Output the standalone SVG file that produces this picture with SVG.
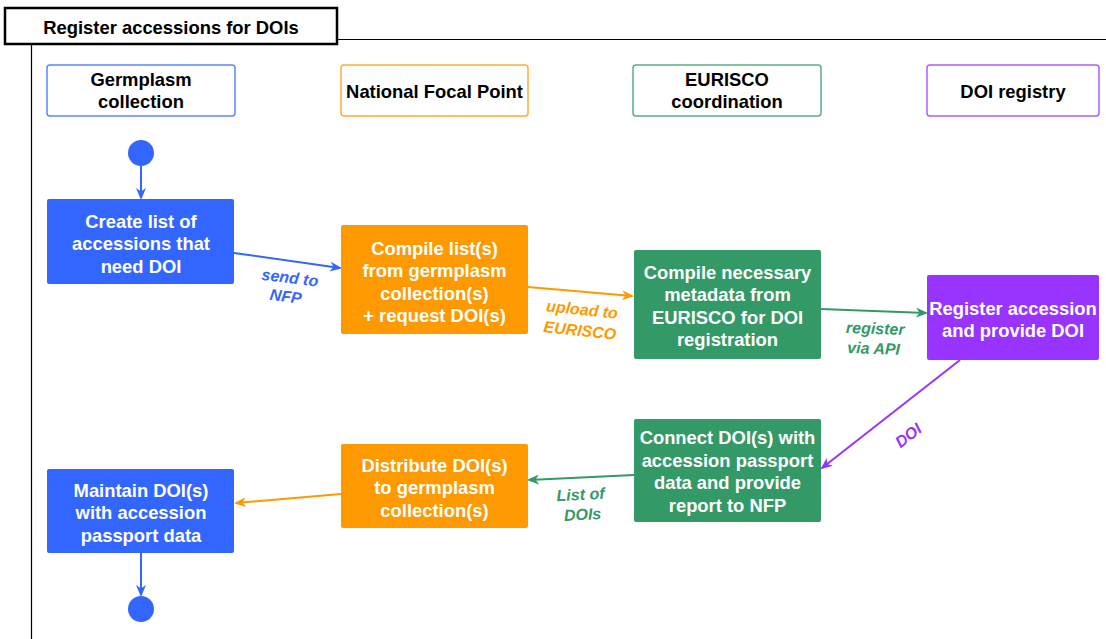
<svg xmlns="http://www.w3.org/2000/svg" width="1106" height="639" viewBox="0 0 1106 639">
<style>
text{font-family:"Liberation Sans",Arial,sans-serif;font-weight:bold;text-anchor:middle}
.n{font-size:18.4px;fill:#fff}
.h{font-size:18.4px;fill:#000}
.l{font-size:16px;font-style:italic}
.e{fill:none;stroke-width:2}
</style>
<defs>
<marker id="mb" markerWidth="12" markerHeight="10" refX="10" refY="5" orient="auto" markerUnits="userSpaceOnUse"><path d="M0,0 L12,5 L0,10 L3.5,5 z" fill="#3366FF"/></marker>
<marker id="mo" markerWidth="12" markerHeight="10" refX="10" refY="5" orient="auto" markerUnits="userSpaceOnUse"><path d="M0,0 L12,5 L0,10 L3.5,5 z" fill="#FF9900"/></marker>
<marker id="mg" markerWidth="12" markerHeight="10" refX="10" refY="5" orient="auto" markerUnits="userSpaceOnUse"><path d="M0,0 L12,5 L0,10 L3.5,5 z" fill="#339966"/></marker>
<marker id="mp" markerWidth="12" markerHeight="10" refX="10" refY="5" orient="auto" markerUnits="userSpaceOnUse"><path d="M0,0 L12,5 L0,10 L3.5,5 z" fill="#9933FF"/></marker>
</defs>
<rect width="1106" height="639" fill="#fff"/>
<g id="frame">
<line x1="337" y1="39.5" x2="1106" y2="39.5" stroke="#000" stroke-width="1"/>
<line x1="31.5" y1="44" x2="31.5" y2="639" stroke="#000" stroke-width="1.2"/>
<rect x="5" y="8" width="332" height="36" fill="#fff" stroke="#000" stroke-width="2.5"/>
<text class="h" x="171" y="34">Register accessions for DOIs</text>
</g>
<g id="lane-germplasm">
<rect x="47" y="65" width="188" height="51" rx="3" fill="#fff" stroke="#3366FF" stroke-width="1.5" stroke-opacity="0.8"/>
<text class="h" x="141" y="85.5">Germplasm</text>
<text class="h" x="141" y="108">collection</text>
</g>
<g id="lane-nfp">
<rect x="341" y="65" width="187" height="51" rx="3" fill="#fff" stroke="#FF9900" stroke-width="1.5" stroke-opacity="0.8"/>
<text class="h" x="434.5" y="97.5">National Focal Point</text>
</g>
<g id="lane-eurisco">
<rect x="633" y="65" width="188" height="51" rx="3" fill="#fff" stroke="#339966" stroke-width="1.5" stroke-opacity="0.8"/>
<text class="h" x="727" y="85.5">EURISCO</text>
<text class="h" x="727" y="108">coordination</text>
</g>
<g id="lane-doi">
<rect x="927" y="65" width="172" height="51" rx="3" fill="#fff" stroke="#9933FF" stroke-width="1.5" stroke-opacity="0.8"/>
<text class="h" x="1013" y="97.5">DOI registry</text>
</g>
<g id="connectors">
<line class="e" x1="141" y1="166" x2="141" y2="198" stroke="#3366FF" marker-end="url(#mb)"/>
<line class="e" x1="234" y1="253" x2="340" y2="268" stroke="#3366FF" marker-end="url(#mb)"/>
<line class="e" x1="528" y1="287" x2="632" y2="296" stroke="#FF9900" marker-end="url(#mo)"/>
<line class="e" x1="821" y1="309" x2="926" y2="313" stroke="#339966" marker-end="url(#mg)"/>
<line class="e" x1="960" y1="360" x2="822" y2="468" stroke="#9933FF" marker-end="url(#mp)"/>
<line class="e" x1="634" y1="475" x2="529" y2="480" stroke="#339966" marker-end="url(#mg)"/>
<line class="e" x1="341" y1="494" x2="236" y2="503" stroke="#FF9900" marker-end="url(#mo)"/>
<line class="e" x1="141" y1="553" x2="141" y2="595" stroke="#3366FF" marker-end="url(#mb)"/>
<g fill="#3366FF" transform="rotate(7 288 286)"><text class="l" x="289" y="283">send to</text><text class="l" x="287" y="302">NFP</text></g>
<g fill="#FF9900" transform="rotate(6 581 320)"><text class="l" x="581" y="315">upload to</text><text class="l" x="581" y="336">EURISCO</text></g>
<g fill="#339966" transform="rotate(2 875 338)"><text class="l" x="875" y="334">register</text><text class="l" x="874" y="354">via API</text></g>
<g fill="#9933FF" transform="rotate(-38 908 435)"><text class="l" x="908" y="441">DOI</text></g>
<g fill="#339966" transform="rotate(-3 581 504)"><text class="l" x="581" y="500">List of</text><text class="l" x="582" y="520">DOIs</text></g>
</g>
<g id="start"><circle cx="141" cy="153" r="13" fill="#3366FF"/></g>
<g id="create-list">
<rect x="47" y="199" width="187" height="85" rx="2" fill="#3366FF"/>
<text class="n" x="141" y="227.5">Create list of</text>
<text class="n" x="141" y="250">accessions that</text>
<text class="n" x="141" y="272.5">need DOI</text>
</g>
<g id="compile-lists">
<rect x="341" y="225" width="187" height="109" rx="2" fill="#FF9900"/>
<text class="n" x="434.5" y="254.5">Compile list(s)</text>
<text class="n" x="434.5" y="277">from germplasm</text>
<text class="n" x="434.5" y="299.5">collection(s)</text>
<text class="n" x="434.5" y="322">+ request DOI(s)</text>
</g>
<g id="compile-metadata">
<rect x="634" y="250" width="187" height="109" rx="2" fill="#339966"/>
<text class="n" x="727.5" y="278.5">Compile necessary</text>
<text class="n" x="727.5" y="301">metadata from</text>
<text class="n" x="727.5" y="323.5">EURISCO for DOI</text>
<text class="n" x="727.5" y="346">registration</text>
</g>
<g id="register">
<rect x="927" y="275" width="172" height="85" rx="2" fill="#9933FF"/>
<text class="n" x="1013" y="314.5">Register accession</text>
<text class="n" x="1013" y="337">and provide DOI</text>
</g>
<g id="connect">
<rect x="634" y="419" width="187" height="103" rx="2" fill="#339966"/>
<text class="n" x="727.5" y="444">Connect DOI(s) with</text>
<text class="n" x="727.5" y="466.5">accession passport</text>
<text class="n" x="727.5" y="489">data and provide</text>
<text class="n" x="727.5" y="511.5">report to NFP</text>
</g>
<g id="distribute">
<rect x="341" y="444" width="187" height="84" rx="2" fill="#FF9900"/>
<text class="n" x="434.5" y="471.5">Distribute DOI(s)</text>
<text class="n" x="434.5" y="494">to germplasm</text>
<text class="n" x="434.5" y="516.5">collection(s)</text>
</g>
<g id="maintain">
<rect x="47" y="469" width="187" height="84" rx="2" fill="#3366FF"/>
<text class="n" x="141" y="496.5">Maintain DOI(s)</text>
<text class="n" x="141" y="519">with accession</text>
<text class="n" x="141" y="541.5">passport data</text>
</g>
<g id="end"><circle cx="141" cy="609" r="13" fill="#3366FF"/></g>
</svg>
